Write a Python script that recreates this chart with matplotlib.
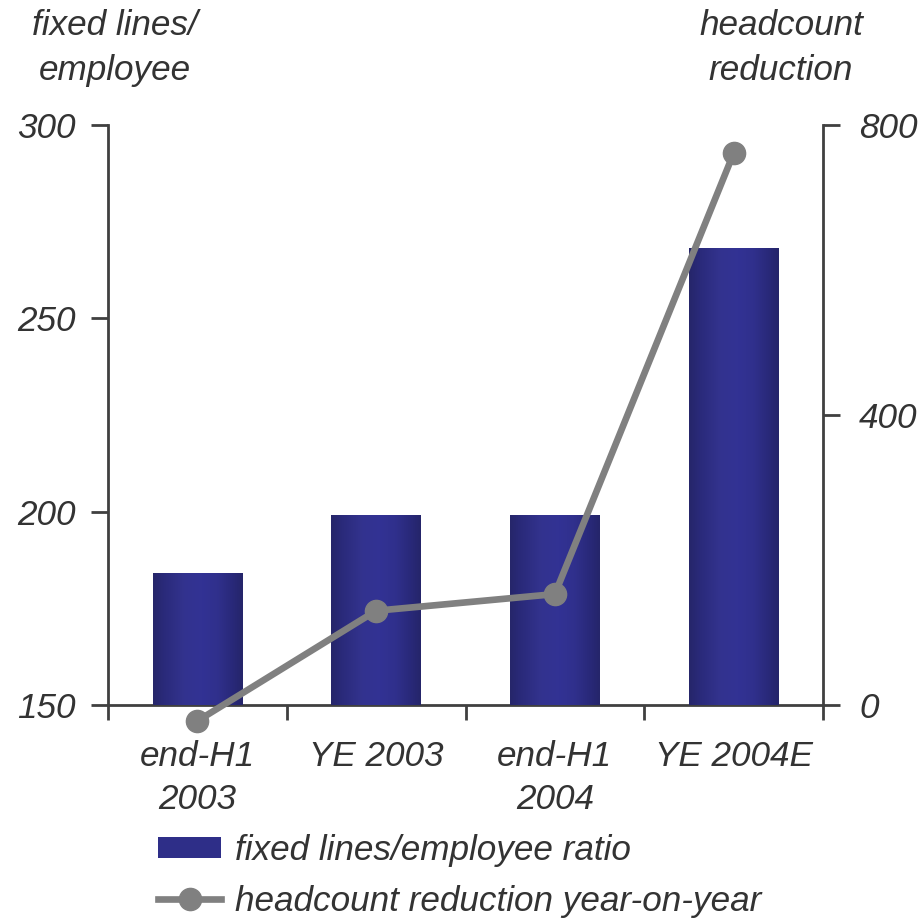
import numpy as np
import matplotlib
matplotlib.use("Agg")
from matplotlib import pyplot as plt
from matplotlib.lines import Line2D
from matplotlib.patches import Patch
from matplotlib.colors import LinearSegmentedColormap

# data
categories = ["end-H1\n2003", "YE 2003", "end-H1\n2004", "YE 2004E"]
lines_per_employee = [184, 199, 199, 268]
headcount_reduction = [-22, 130, 153, 761]

plt.rcParams['font.family'] = ['Liberation Sans', 'DejaVu Sans']
plt.rcParams['font.style'] = 'italic'
txt = '#333333'
axc = '#404040'
fs = 25.3

fig = plt.figure(figsize=(9.18, 9.19), dpi=100)
ax = fig.add_axes([108/918, 214/919, 715/918, 580/919])
x = np.arange(len(categories))

bars = ax.bar(x, lines_per_employee, width=0.5, color='#2e2e88', zorder=2)

# cylinder-like shading across each bar
shade = LinearSegmentedColormap.from_list('shade', [
    (0.0, '#26266a'), (0.12, '#2a2a7a'), (0.35, '#33338f'),
    (0.55, '#323294'), (0.72, '#30308c'), (0.88, '#29297a'), (1.0, '#25256a')])
grad = np.linspace(0, 1, 256).reshape(1, -1)
for b in bars:
    x0, y0, w, h = b.get_x(), b.get_y(), b.get_width(), b.get_height()
    ax.imshow(grad, cmap=shade, aspect='auto', extent=(x0, x0 + w, y0, y0 + h),
              zorder=3, interpolation='bicubic')

ax.set_xlim(-0.5, len(categories) - 0.5)
ax.set_ylim(150, 300)
ax.set_yticks([150, 200, 250, 300])
ax.set_xticks(np.arange(-0.5, len(categories), 1.0))
ax.set_xticklabels([])
ax.set_xticks(x, minor=True)
ax.set_xticklabels(categories, minor=True, fontsize=fs, color=txt, linespacing=1.38)
ax.tick_params(axis='x', which='minor', length=0, pad=25)
ax.tick_params(axis='x', which='major', length=11, width=2, color=axc, direction='out')
ax.tick_params(axis='y', length=12, width=2, color=axc, labelsize=fs, labelcolor=txt, pad=11.5)

for s in ['top', 'right']:
    ax.spines[s].set_visible(False)
for s in ['left', 'bottom']:
    ax.spines[s].set_color(axc)
    ax.spines[s].set_linewidth(2)

ax2 = ax.twinx()
ax2.set_ylim(0, 800)
ax2.set_yticks([0, 400, 800])
ax2.tick_params(axis='y', length=12, width=2, color=axc, labelsize=fs, labelcolor=txt, pad=14)
for s in ['top', 'left', 'bottom']:
    ax2.spines[s].set_visible(False)
ax2.spines['right'].set_color(axc)
ax2.spines['right'].set_linewidth(2)
ax2.plot(x, headcount_reduction, color='#808080', lw=4.8, marker='o', ms=16,
         clip_on=False, zorder=5)

fig.text(115/918, 1 - 48/919, "fixed lines/\nemployee", ha='center', va='center',
         fontsize=fs, color=txt, linespacing=1.45)
fig.text(781/918, 1 - 48/919, "headcount\nreduction", ha='center', va='center',
         fontsize=fs, color=txt, linespacing=1.45)

handles = [Patch(facecolor='#2e2e88', edgecolor='none'),
           Line2D([], [], color='#808080', lw=4.8, marker='o', ms=16)]
labels = ["fixed lines/employee ratio", "headcount reduction year-on-year"]
fig.legend(handles, labels, loc='upper left', bbox_to_anchor=(158/918, 1 - 834/919),
           frameon=False, fontsize=fs, labelcolor=txt, handlelength=1.8,
           handleheight=0.55, handletextpad=0.38, labelspacing=0.5, borderaxespad=0,
           borderpad=0)

fig.savefig("out.png", dpi=100)
